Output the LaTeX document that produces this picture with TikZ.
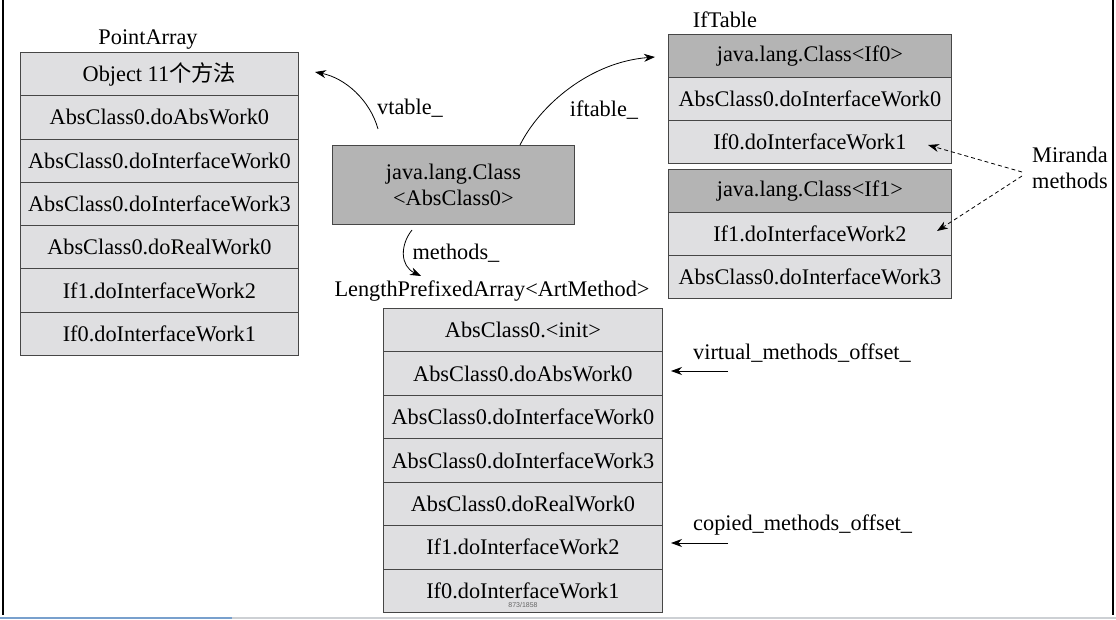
\documentclass[tikz,border=0pt]{standalone}
\usepackage{fontspec}
\setmainfont{Liberation Serif}
\newfontfamily\cjk{Noto Sans CJK SC}
\newfontfamily\pagefont{Liberation Sans}
\usetikzlibrary{arrows.meta}
\definecolor{cellLight}{RGB}{223,223,225}
\definecolor{cellDark}{RGB}{180,180,180}
\definecolor{cellLine}{RGB}{70,70,70}
\definecolor{barGray}{RGB}{205,208,212}
\definecolor{barBlue}{RGB}{120,160,205}
\tikzset{
 cellbox/.style={draw=cellLine, line width=0.8pt, fill=cellLight, anchor=north west, inner sep=0pt, font=\fontsize{22.3}{26}\selectfont, align=center},
 darkcell/.style={cellbox, fill=cellDark},
 lbl/.style={inner sep=0pt, font=\fontsize{22.3}{26}\selectfont},
 arr/.style={-{Stealth[length=11pt,width=8pt]}, line width=0.8pt},
 darr/.style={arr, dash pattern=on 4pt off 3pt},
}
\begin{document}
\begin{tikzpicture}[x=1pt,y=-1pt]
\useasboundingbox (0,0) rectangle (1116,620);
% frame artefacts
\draw[line width=2pt] (3,0) -- (3,615);
\draw[line width=2pt] (1113,0) -- (1113,615);
\draw[line width=1.5pt, barGray] (0,618) -- (1116,618);
\draw[line width=1.5pt, barBlue] (0,618) -- (232,618);

% PointArray
\node[lbl] (paT) at (148,40) {PointArray};
\foreach \i/\t [count=\k from 0] in {1/{Object 11{\cjk 个方法}},2/AbsClass0.doAbsWork0,3/AbsClass0.doInterfaceWork0,4/AbsClass0.doInterfaceWork3,5/AbsClass0.doRealWork0,6/If1.doInterfaceWork2,7/If0.doInterfaceWork1}
  \node[cellbox, minimum width=278pt, minimum height=43.3pt] (pa\i) at (20,52+43.3*\k) {\t};

% class box
\node[darkcell, minimum width=242pt, minimum height=79pt] (cls) at (332,145) {java.lang.Class\\<AbsClass0>};

% IfTable
\node[lbl] (ifT) at (725,20) {IfTable};
\node[darkcell, minimum width=283pt, minimum height=43pt] (if1) at (668,34) {java.lang.Class<If0>};
\node[cellbox, minimum width=283pt, minimum height=43pt] (if2) at (668,77) {AbsClass0.doInterfaceWork0};
\node[cellbox, minimum width=283pt, minimum height=43pt] (if3) at (668,120) {If0.doInterfaceWork1};
\node[darkcell, minimum width=283pt, minimum height=43pt] (if4) at (668,169) {java.lang.Class<If1>};
\node[cellbox, minimum width=283pt, minimum height=43pt] (if5) at (668,212) {If1.doInterfaceWork2};
\node[cellbox, minimum width=283pt, minimum height=43pt] (if6) at (668,255) {AbsClass0.doInterfaceWork3};

% LengthPrefixedArray
\node[lbl] (lpT) at (492,291) {LengthPrefixedArray<ArtMethod>};
\foreach \i/\t [count=\k from 0] in {1/AbsClass0.<init>,2/AbsClass0.doAbsWork0,3/AbsClass0.doInterfaceWork0,4/AbsClass0.doInterfaceWork3,5/AbsClass0.doRealWork0,6/If1.doInterfaceWork2,7/If0.doInterfaceWork1}
  \node[cellbox, minimum width=279pt, minimum height=43.43pt] (lm\i) at (383,308+43.43*\k) {\t};
\node[inner sep=0pt, font=\pagefont\fontsize{7}{8}\selectfont, text=black!60] (pg) at (523,605) {873/1858};

% labels
\node[lbl] (vtL) at (410,108) {vtable\_};
\node[lbl] (ifL) at (604,110) {iftable\_};
\node[lbl] (mtL) at (456,253) {methods\_};
\node[lbl, anchor=west] (vmo) at (693,353) {virtual\_methods\_offset\_};
\node[lbl, anchor=west] (cmo) at (693,525) {copied\_methods\_offset\_};
\node[lbl, align=center] (mir) at (1070,168) {Miranda\\methods};

% connector ends
\coordinate (vt0) at (378,129);
\coordinate (vt1) at (315,72);
\coordinate (if0s) at (520,145);
\coordinate (if0e) at (655,57);
\coordinate (mt0) at (412,230);
\coordinate (mt1) at (421,276);
\coordinate (mirS1) at (1022,172);
\coordinate (mirS2) at (1022,176);
\coordinate (mirA) at (928,145);
\coordinate (mirB) at (937,231);
\coordinate (vmoS) at (728,371);
\coordinate (vmoE) at (671,371);
\coordinate (cmoS) at (728,543);
\coordinate (cmoE) at (671,543);

\draw[arr] (vt0) .. controls (370,100) and (345,78) .. (vt1);
\draw[arr] (if0s) .. controls (540,105) and (590,62) .. (if0e);
\draw[arr] (mt0) .. controls (400,245) and (400,266) .. (mt1);
\draw[darr] (mirS1) -- (mirA);
\draw[darr] (mirS2) -- (mirB);
\draw[arr] (vmoS) -- (vmoE);
\draw[arr] (cmoS) -- (cmoE);
\end{tikzpicture}
\end{document}
